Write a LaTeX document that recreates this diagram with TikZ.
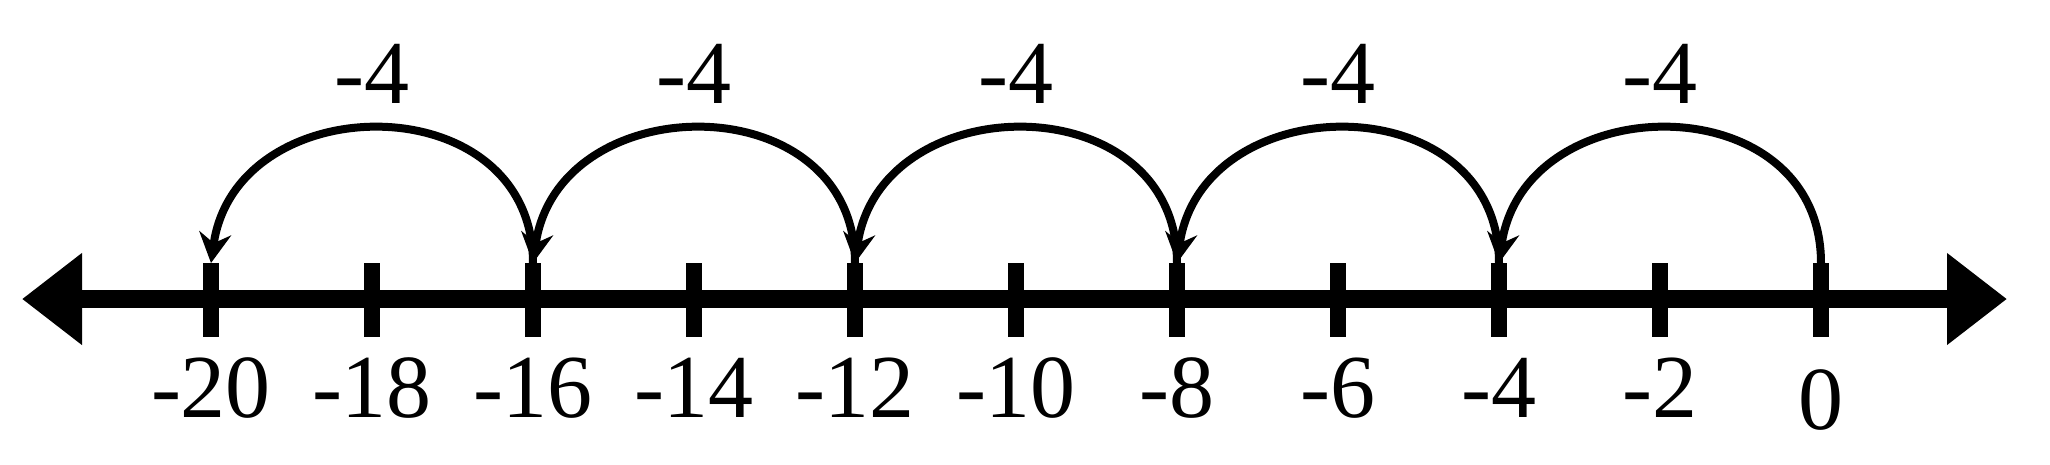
\documentclass[tikz,border=0pt]{standalone}
\usepackage{fontspec}
\setmainfont{Liberation Serif}
\usetikzlibrary{arrows.meta}

\begin{document}
\begin{tikzpicture}[
    x=0.25pt, y=0.25pt,
    every node/.style={inner sep=0pt, font=\fontsize{22.5}{27}\selectfont},
    axis/.style    ={line width=4.5pt, draw=black,
                     {Triangle[length=15pt,width=22pt]}-{Triangle[length=15pt,width=22pt]}},
    tickmark/.style={line width=4pt, draw=black},
    hop/.style     ={line width=2pt, draw=black,
                     -{Stealth[length=7.5pt,width=8pt,inset=2.5pt]}},
    num/.style     ={anchor=base},
    jump/.style    ={anchor=base},
  ]

  %% --- common geometry --------------------------------------------------
  \def\ax{165}     % axis height
  \def\tktop{201}  % tick top
  \def\tklen{74}   % tick length
  \def\lb{47}      % baseline of the numbers
  \def\jb{361}     % baseline of the jump labels
  \useasboundingbox (0,0) rectangle (2050,464);

  %% --- number line ------------------------------------------------------
  \draw[axis] (22,\ax) -- (2007,\ax);

  % tick tops
  \coordinate (n20) at (211,\tktop);
  \coordinate (n18) at (372,\tktop);
  \coordinate (n16) at (533,\tktop);
  \coordinate (n14) at (694,\tktop);
  \coordinate (n12) at (855,\tktop);
  \coordinate (n10) at (1016,\tktop);
  \coordinate (n8)  at (1177,\tktop);
  \coordinate (n6)  at (1338,\tktop);
  \coordinate (n4)  at (1499,\tktop);
  \coordinate (n2)  at (1660,\tktop);
  \coordinate (n0)  at (1821,\tktop);

  % ticks
  \draw[tickmark] (n20) -- ++(0,-\tklen);
  \draw[tickmark] (n18) -- ++(0,-\tklen);
  \draw[tickmark] (n16) -- ++(0,-\tklen);
  \draw[tickmark] (n14) -- ++(0,-\tklen);
  \draw[tickmark] (n12) -- ++(0,-\tklen);
  \draw[tickmark] (n10) -- ++(0,-\tklen);
  \draw[tickmark] (n8)  -- ++(0,-\tklen);
  \draw[tickmark] (n6)  -- ++(0,-\tklen);
  \draw[tickmark] (n4)  -- ++(0,-\tklen);
  \draw[tickmark] (n2)  -- ++(0,-\tklen);
  \draw[tickmark] (n0)  -- ++(0,-\tklen);

  % numbers under the ticks (0 sits a little lower)
  \node[num] (l20) at (211,\lb)  {-20};
  \node[num] (l18) at (372,\lb)  {-18};
  \node[num] (l16) at (533,\lb)  {-16};
  \node[num] (l14) at (694,\lb)  {-14};
  \node[num] (l12) at (855,\lb)  {-12};
  \node[num] (l10) at (1016,\lb) {-10};
  \node[num] (l8)  at (1177,\lb) {-8};
  \node[num] (l6)  at (1338,\lb) {-6};
  \node[num] (l4)  at (1499,\lb) {-4};
  \node[num] (l2)  at (1660,\lb) {-2};
  \node[num] (l0)  at (1821,35)  {0};

  %% --- jumps of -4, right to left ---------------------------------------
  \draw[hop] (n0)  to[out=90,in=82,looseness=1.43] (n4);
  \draw[hop] (n4)  to[out=90,in=82,looseness=1.43] (n8);
  \draw[hop] (n8)  to[out=90,in=82,looseness=1.43] (n12);
  \draw[hop] (n12) to[out=90,in=82,looseness=1.43] (n16);
  \draw[hop] (n16) to[out=90,in=82,looseness=1.43] (n20);

  % jump labels above the arcs
  \node[jump] (j1) at (1660,\jb) {-4};
  \node[jump] (j2) at (1338,\jb) {-4};
  \node[jump] (j3) at (1016,\jb) {-4};
  \node[jump] (j4) at (694,\jb)  {-4};
  \node[jump] (j5) at (372,\jb)  {-4};

\end{tikzpicture}
\end{document}
